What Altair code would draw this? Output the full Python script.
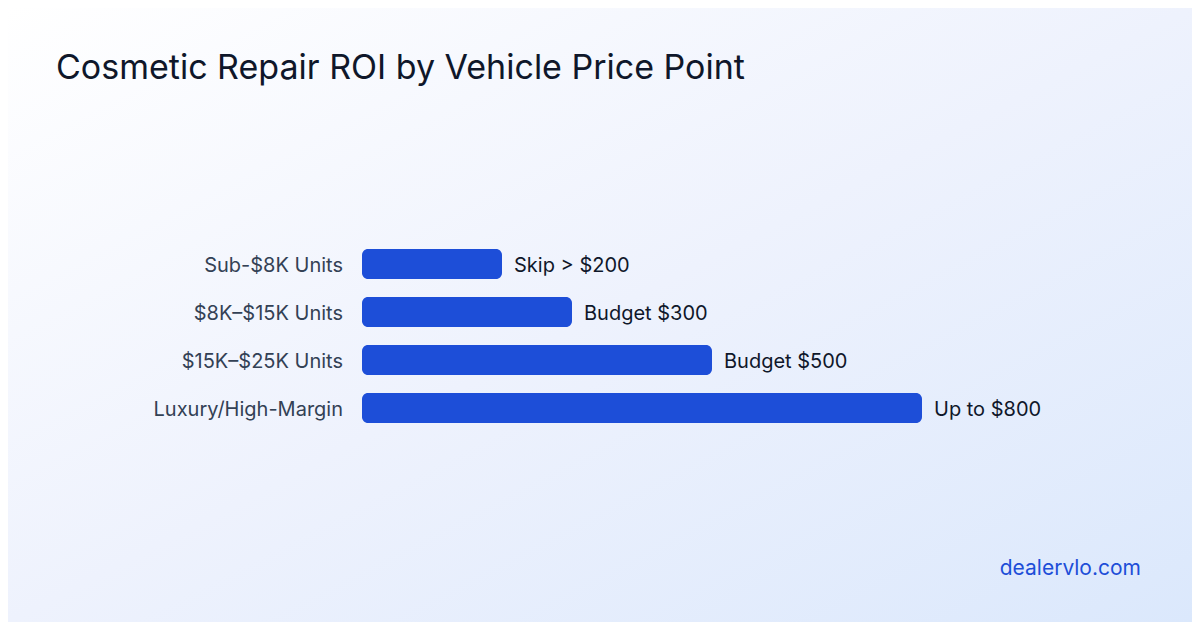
import altair as alt
import pandas as pd

categories = ["Sub-$8K Units", "$8K–$15K Units", "$15K–$25K Units", "Luxury/High-Margin"]
values = [200, 300, 500, 800]
value_labels = ["Skip > $200", "Budget $300", "Budget $500", "Up to $800"]

title_text = "Cosmetic Repair ROI by Vehicle Price Point"
watermark = "dealervlo.com"

W, H = 1184, 614
FONT = "Inter"

df = pd.DataFrame({"category": categories, "value": values, "label": value_labels})

x_scale = alt.Scale(domain=[0, 800], range=[354, 914])
y_scale = alt.Scale(domain=categories, range=[232, 424], paddingInner=0, paddingOuter=0)

bg = alt.Chart(pd.DataFrame({"a": [0]})).mark_rect(
    fill=alt.Gradient(
        gradient="linear",
        stops=[
            alt.GradientStop(color="#ffffff", offset=0),
            alt.GradientStop(color="#eef2fd", offset=0.5),
            alt.GradientStop(color="#dbe8fc", offset=1),
        ],
        x1=0, y1=0, x2=1, y2=1,
    ),
    strokeWidth=0,
).encode(x=alt.value(0), x2=alt.value(W), y=alt.value(0), y2=alt.value(H))

base = alt.Chart(df)

bars = base.mark_bar(height=30, cornerRadius=6, color="#1d4ed8").encode(
    x=alt.X("value:Q", scale=x_scale, axis=None),
    y=alt.Y("category:N", scale=y_scale, axis=None, sort=categories),
)

cat_text = base.mark_text(
    align="right", baseline="middle", dy=1.5, font=FONT, fontSize=20, color="#334155"
).encode(
    x=alt.value(335),
    y=alt.Y("category:N", scale=y_scale, axis=None, sort=categories),
    text="category:N",
)

val_text = base.mark_text(
    align="left", baseline="middle", dx=12, dy=1.5, font=FONT, fontSize=20, color="#0f172a"
).encode(
    x=alt.X("value:Q", scale=x_scale, axis=None),
    y=alt.Y("category:N", scale=y_scale, axis=None, sort=categories),
    text="label:N",
)

title = alt.Chart(pd.DataFrame({"t": [title_text]})).mark_text(
    align="left", baseline="alphabetic", font=FONT, fontSize=34, color="#0f172a"
).encode(x=alt.value(48), y=alt.value(71), text="t:N")

wm = alt.Chart(pd.DataFrame({"t": [watermark]})).mark_text(
    align="right", baseline="alphabetic", font=FONT, fontSize=21, color="#1d4ed8"
).encode(x=alt.value(1133), y=alt.value(567), text="t:N")

chart = alt.layer(bg, bars, cat_text, val_text, title, wm).properties(
    width=W, height=H, autosize=alt.AutoSizeParams(type="none"), padding=0
).configure_view(stroke=None).configure(background="#ffffff")

chart.save("out.html", embed_options={"renderer": "svg", "actions": False})
